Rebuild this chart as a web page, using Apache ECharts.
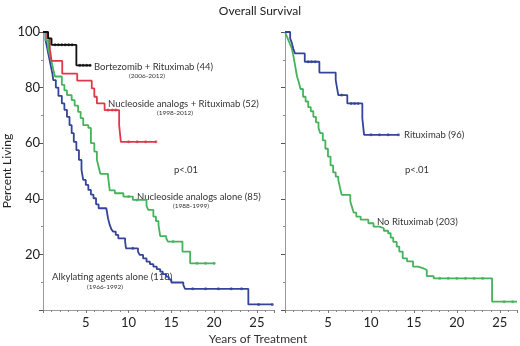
<!DOCTYPE html>
<html>
<head>
<meta charset="utf-8">
<title>Overall Survival</title>
<script src="https://cdn.jsdelivr.net/npm/echarts@6/dist/echarts.min.js"></script>
<style>
  html, body { margin: 0; padding: 0; background: #fff; }
  #main { width: 520px; height: 346px; }
</style>
</head>
<body>
<div id="main"></div>
<script>
// Kaplan-Meier steps, [years, percent living] - value holds from that time on
const bortezomibRitux = [[0, 100], [0.6, 97.7], [1.0, 95.4], [3.9, 88], [5.6, 88]]
const nucleoRitux = [[0, 100], [0.5, 97.7], [0.8, 94], [1.0, 89.6], [2.25, 85], [4.0, 82.5], [5.7, 79.7],
  [6.0, 76.7], [6.3, 74.3], [7.2, 71.9], [8.9, 66.5], [9.1, 60.5], [13.2, 60.5]]
const nucleoAlone = [[0, 100], [0.3, 97], [0.6, 94], [0.8, 91.5], [1.0, 89.3], [1.2, 86.5], [1.4, 84],
  [2.2, 81], [2.5, 79], [2.8, 77.3], [3.35, 75.5], [3.7, 73.5], [4.1, 71.3], [4.4, 69], [4.7, 66.5],
  [5.3, 65.5], [5.6, 60], [6.0, 57], [6.3, 54], [6.5, 51.5], [6.7, 49], [7.6, 48], [7.8, 43], [8.4, 42],
  [9.4, 40.8], [10.5, 39.6], [12.1, 37.5], [12.3, 36], [12.9, 33.6], [13.2, 32], [13.5, 30.6],
  [13.7, 26.6], [14.4, 25.8], [14.6, 24.6], [16.3, 21], [17.2, 16.8], [20.1, 16.8]]
const alkylating = [[0, 100], [0.3, 97], [0.5, 94], [0.7, 91], [0.9, 88], [1.1, 85], [1.2, 82.7],
  [1.5, 80], [1.8, 77], [2.2, 74.3], [2.5, 72], [2.8, 69.5], [3.1, 66.5], [3.35, 63.6], [3.6, 60.5],
  [3.9, 57.5], [4.2, 54], [4.5, 50.4], [4.7, 46.8], [5.0, 45], [5.3, 43.2], [5.6, 41.5], [5.9, 40.2],
  [6.2, 38], [6.5, 36.6], [7.4, 36], [7.6, 33], [7.8, 30.6], [8.0, 29], [8.2, 28.2], [8.5, 27],
  [8.8, 25.8], [9.6, 24.6], [9.7, 22.2], [11.1, 21], [11.3, 19.8], [11.7, 18.6], [12.1, 17.4],
  [12.5, 16.5], [12.9, 15.6], [13.3, 14.7], [13.7, 13.8], [14.0, 12.9], [14.4, 12], [14.7, 11],
  [15.0, 9.9], [16.4, 9], [16.6, 7.6], [24.0, 2], [26.8, 2]]
const rituximab = [[0, 100], [0.6, 97.7], [0.8, 96], [0.97, 94], [1.16, 92.3], [2.3, 89.3], [4.0, 85.4],
  [5.9, 82.7], [6.05, 80], [6.2, 77.3], [7.25, 74.3], [9.0, 69], [9.2, 63], [13.2, 63]]
const noRituximab = [[0, 100], [0.2, 98.5], [0.4, 97], [0.6, 95.5], [0.8, 94], [1.0, 91], [1.2, 87.5],
  [1.4, 84], [1.6, 82], [1.8, 79.5], [2.1, 76.7], [2.4, 75], [2.7, 73], [3.0, 71.5], [3.3, 69.5],
  [3.6, 67.5], [3.9, 65.5], [4.1, 63.6], [4.4, 61], [4.7, 58], [5.0, 55.2], [5.3, 52], [5.6, 49.5],
  [5.9, 48], [6.2, 46.8], [6.4, 44], [6.6, 41.4], [7.6, 39], [7.8, 37], [8.0, 35], [8.3, 33.6],
  [8.8, 32.5], [9.7, 31.2], [10.3, 30], [11.0, 29.4], [11.5, 28.5], [12.0, 27.6], [12.3, 26],
  [12.6, 24.5], [13.0, 22.8], [13.3, 21], [13.7, 18.6], [14.2, 17.5], [14.9, 15.6], [15.5, 15],
  [16.1, 14.4], [16.5, 12.2], [17.3, 11.4], [24.1, 3], [27, 3]]

// censored times (little marks along the curves)
const bortezomibCens = [1.4, 1.8, 2.2, 2.6, 3.0, 3.4, 4.3, 4.7, 5.1, 5.5]
const nucleoRituxCens = [7.6, 8.1, 8.5, 10, 11, 12, 13.2]
const nucleoAloneCens = [10, 11, 15.2, 18, 19, 20]
const alkylatingCens = [10.5, 17.5, 19, 20.5, 22, 23.2, 25.2, 26.8]
const rituximabCens = [2.7, 3.1, 3.5, 6.6, 7.7, 8.1, 8.5, 10, 11, 12, 13.2]
const noRituximabCens = [18, 19, 20, 21, 22, 23, 25.5, 26.5]

const yTicks = [20, 40, 60, 80, 100]
const xTicks = [5, 10, 15, 20, 25]

// value of a step curve at time t
function survAt(curve, t) {
  let v = curve[0][1]
  for (let i = 0; i < curve.length; i++) {
    if (curve[i][0] <= t) v = curve[i][1]
  }
  return v
}

function censPoints(curve, times) {
  return times.map(t => [t, survAt(curve, t)])
}

const font = 'Lato'
const colBlack = '#111111'
const colRed = '#e0384a'
const colGreen = '#45b35c'
const colBlue = '#34449a'

function stepLine(name, data, color, gridIdx) {
  return {
    name: name,
    type: 'line',
    step: 'end',
    xAxisIndex: gridIdx,
    yAxisIndex: gridIdx,
    data: data,
    showSymbol: false,
    lineStyle: { color: color, width: 1.8 },
    z: 3,
  }
}

function censMarks(name, data, color, gridIdx) {
  return {
    name: name,
    type: 'scatter',
    xAxisIndex: gridIdx,
    yAxisIndex: gridIdx,
    data: data,
    symbol: 'circle',
    symbolSize: 3,
    itemStyle: { color: color },
    z: 4,
  }
}

function makeXAxis(gridIdx) {
  return {
    type: 'value',
    gridIndex: gridIdx,
    min: 0,
    max: 27,
    interval: 5,
    splitLine: { show: false },
    axisLine: { lineStyle: { color: '#9a9a9a', width: 1 } },
    axisTick: { length: 3, lineStyle: { color: '#777' } },
    minorTick: { show: true, splitNumber: 5, length: 2, lineStyle: { color: '#888' } },
    axisLabel: {
      color: '#222',
      fontFamily: font,
      fontSize: 13,
      margin: 6,
      formatter: v => (xTicks.indexOf(v) > -1 ? String(v) : ''),
    },
  }
}

function makeYAxis(gridIdx, showLabels) {
  return {
    type: 'value',
    gridIndex: gridIdx,
    min: 0,
    max: 100,
    interval: 20,
    splitLine: { show: false },
    axisLine: { show: true, lineStyle: { color: '#9a9a9a', width: 1 } },
    axisTick: { length: 4, lineStyle: { color: '#555' } },
    minorTick: { show: true, splitNumber: 2, length: 2, lineStyle: { color: '#888' } },
    axisLabel: {
      show: showLabels,
      color: '#222',
      fontFamily: font,
      fontSize: 13,
      margin: 3,
      formatter: v => (yTicks.indexOf(v) > -1 ? String(v) : ''),
    },
    name: showLabels ? 'Percent Living' : '',
    nameLocation: 'middle',
    nameGap: 30,
    nameRotate: 90,
    nameTextStyle: { color: '#222', fontFamily: font, fontSize: 12 },
  }
}

function label(text, x, y, size, align) {
  return {
    type: 'text',
    x: x,
    y: y,
    style: {
      text: text,
      font: size + 'px ' + font,
      fill: '#333',
      align: align || 'left',
      verticalAlign: 'middle',
    },
  }
}

let myChart = echarts.init(document.getElementById('main'))
let option = {
  animation: false,
  backgroundColor: '#fff',
  title: {
    text: 'Overall Survival',
    left: 'center',
    top: 0,
    textStyle: { color: '#222', fontFamily: font, fontSize: 12, fontWeight: 'normal' },
  },
  grid: [
    { left: 43, top: 32, width: 231, height: 278 },
    { left: 285, top: 32, width: 232, height: 278 },
  ],
  xAxis: [makeXAxis(0), makeXAxis(1)],
  yAxis: [makeYAxis(0, true), makeYAxis(1, false)],
  series: [
    stepLine('Alkylating agents alone', alkylating, colBlue, 0),
    stepLine('Nucleoside analogs alone', nucleoAlone, colGreen, 0),
    stepLine('Nucleoside analogs + Rituximab', nucleoRitux, colRed, 0),
    stepLine('Bortezomib + Rituximab', bortezomibRitux, colBlack, 0),
    censMarks('alk cens', censPoints(alkylating, alkylatingCens), colBlue, 0),
    censMarks('na cens', censPoints(nucleoAlone, nucleoAloneCens), colGreen, 0),
    censMarks('nar cens', censPoints(nucleoRitux, nucleoRituxCens), colRed, 0),
    censMarks('br cens', censPoints(bortezomibRitux, bortezomibCens), colBlack, 0),
    stepLine('No Rituximab', noRituximab, colGreen, 1),
    stepLine('Rituximab', rituximab, colBlue, 1),
    censMarks('nr cens', censPoints(noRituximab, noRituximabCens), colGreen, 1),
    censMarks('r cens', censPoints(rituximab, rituximabCens), colBlue, 1),
  ],
  graphic: [
    label('Bortezomib + Rituximab (44)', 94, 67, 9.5),
    label('(2006-2012)', 147, 75.5, 6.5, 'center'),
    label('Nucleoside analogs + Rituximab (52)', 108, 104, 9.5),
    label('(1998-2012)', 175, 113, 6.5, 'center'),
    label('p<.01', 174, 170, 9.5),
    label('Nucleoside analogs alone (85)', 137, 197, 9.5),
    label('(1988-1999)', 191, 206, 6.5, 'center'),
    label('Alkylating agents alone (118)', 52, 277, 9.5),
    label('(1966-1992)', 105, 287, 6.5, 'center'),
    label('Rituximab (96)', 404, 135, 9.5),
    label('p<.01', 405, 170, 9.5),
    label('No Rituximab (203)', 377, 222, 9.5),
    label('Years of Treatment', 258, 339, 12, 'center'),
  ],
}
myChart.setOption(option)
</script>
</body>
</html>
